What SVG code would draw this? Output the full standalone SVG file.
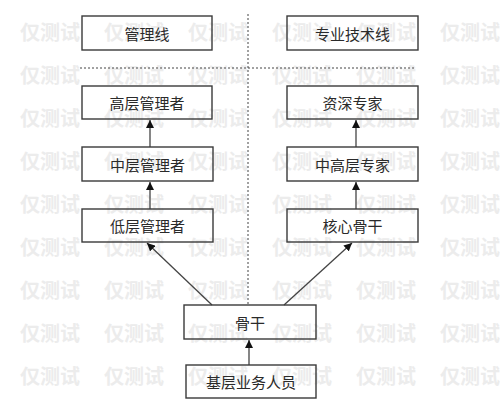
<svg xmlns="http://www.w3.org/2000/svg" width="500" height="408" viewBox="0 0 500 408">
<defs>
<style>
.wm{font-family:"Noto Sans CJK SC","Noto Sans",sans-serif;font-size:20px;font-weight:bold;fill:#ececec}
.box rect{fill:none;stroke:#3a3a3a;stroke-width:1.4}
.box text{font-family:"Noto Sans CJK SC","Noto Sans",sans-serif;font-size:15px;fill:#2a2a2a;text-anchor:middle;dominant-baseline:central}
.dash{stroke:#444;stroke-width:1;stroke-dasharray:2,2;fill:none}
.arr{stroke:#444;stroke-width:1.3;fill:none;marker-end:url(#ah)}
</style>
<marker id="ah" viewBox="0 0 10 10" refX="10" refY="5" markerWidth="8" markerHeight="8" markerUnits="userSpaceOnUse" orient="auto">
<path d="M0,0 L10,5 L0,10 Z" fill="#111"/>
</marker>
</defs>
<rect width="500" height="408" fill="#fff"/>
<g id="watermark" class="wm">
<text x="20" y="40">仅测试</text><text x="104" y="40">仅测试</text><text x="188" y="40">仅测试</text><text x="272" y="40">仅测试</text><text x="356" y="40">仅测试</text><text x="440" y="40">仅测试</text>
<text x="20" y="83">仅测试</text><text x="104" y="83">仅测试</text><text x="188" y="83">仅测试</text><text x="272" y="83">仅测试</text><text x="356" y="83">仅测试</text><text x="440" y="83">仅测试</text>
<text x="20" y="126">仅测试</text><text x="104" y="126">仅测试</text><text x="188" y="126">仅测试</text><text x="272" y="126">仅测试</text><text x="356" y="126">仅测试</text><text x="440" y="126">仅测试</text>
<text x="20" y="169">仅测试</text><text x="104" y="169">仅测试</text><text x="188" y="169">仅测试</text><text x="272" y="169">仅测试</text><text x="356" y="169">仅测试</text><text x="440" y="169">仅测试</text>
<text x="20" y="212">仅测试</text><text x="104" y="212">仅测试</text><text x="188" y="212">仅测试</text><text x="272" y="212">仅测试</text><text x="356" y="212">仅测试</text><text x="440" y="212">仅测试</text>
<text x="20" y="255">仅测试</text><text x="104" y="255">仅测试</text><text x="188" y="255">仅测试</text><text x="272" y="255">仅测试</text><text x="356" y="255">仅测试</text><text x="440" y="255">仅测试</text>
<text x="20" y="298">仅测试</text><text x="104" y="298">仅测试</text><text x="188" y="298">仅测试</text><text x="272" y="298">仅测试</text><text x="356" y="298">仅测试</text><text x="440" y="298">仅测试</text>
<text x="20" y="341">仅测试</text><text x="104" y="341">仅测试</text><text x="188" y="341">仅测试</text><text x="272" y="341">仅测试</text><text x="356" y="341">仅测试</text><text x="440" y="341">仅测试</text>
<text x="20" y="384">仅测试</text><text x="104" y="384">仅测试</text><text x="188" y="384">仅测试</text><text x="272" y="384">仅测试</text><text x="356" y="384">仅测试</text><text x="440" y="384">仅测试</text>
</g>
<g id="connectors">
<line class="dash" x1="248" y1="14" x2="248" y2="305"/>
<line class="dash" x1="80" y1="68" x2="416" y2="68"/>
<line class="arr" x1="150" y1="147" x2="150" y2="120"/>
<line class="arr" x1="150" y1="209" x2="150" y2="182"/>
<line class="arr" x1="356" y1="147" x2="356" y2="120"/>
<line class="arr" x1="356" y1="209" x2="356" y2="182"/>
<line class="arr" x1="212" y1="305" x2="147" y2="243"/>
<line class="arr" x1="284" y1="305" x2="352" y2="243"/>
<line class="arr" x1="249" y1="365" x2="249" y2="340"/>
</g>
<g id="n-guanlixian" class="box"><rect x="82" y="16" width="130" height="34"/><text x="147" y="33">管理线</text></g>
<g id="n-zhuanye" class="box"><rect x="287" y="16" width="131" height="34"/><text x="352.5" y="33">专业技术线</text></g>
<g id="n-gaoceng" class="box"><rect x="82" y="86" width="130" height="33"/><text x="147" y="102.5">高层管理者</text></g>
<g id="n-zhongceng" class="box"><rect x="82" y="147" width="131" height="34"/><text x="147.5" y="164">中层管理者</text></g>
<g id="n-diceng" class="box"><rect x="82" y="209" width="131" height="33"/><text x="147.5" y="225.5">低层管理者</text></g>
<g id="n-zishen" class="box"><rect x="287" y="86" width="131" height="33"/><text x="352.5" y="102.5">资深专家</text></g>
<g id="n-zhonggao" class="box"><rect x="287" y="147" width="131" height="34"/><text x="352.5" y="164">中高层专家</text></g>
<g id="n-hexin" class="box"><rect x="287" y="209" width="131" height="33"/><text x="352.5" y="225.5">核心骨干</text></g>
<g id="n-gugan" class="box"><rect x="184" y="305" width="132" height="34"/><text x="250" y="322">骨干</text></g>
<g id="n-jiceng" class="box"><rect x="186" y="365" width="130" height="33"/><text x="251" y="381.5">基层业务人员</text></g>
</svg>
